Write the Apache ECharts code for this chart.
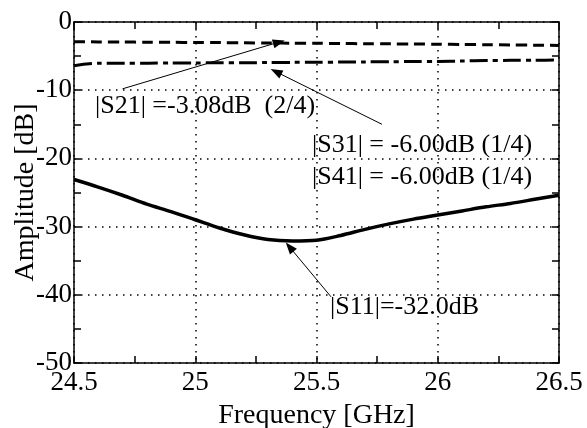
<!DOCTYPE html>
<html>
<head>
<meta charset="utf-8">
<script src="https://cdn.jsdelivr.net/npm/echarts@6/dist/echarts.min.js"></script>
<style>
  html, body { margin: 0; padding: 0; background: #fff; }
  #chart { width: 587px; height: 428px; }
</style>
</head>
<body>
<div id="chart"></div>
<script>
// frequency [GHz]
const freq = [24.5, 24.6, 24.7, 24.8, 24.9, 25.0, 25.1, 25.2, 25.3, 25.4, 25.5,
  25.6, 25.7, 25.8, 25.9, 26.0, 26.1, 26.2, 26.3, 26.4, 26.5]
// amplitude [dB]
const s21 = [-2.9, -2.92, -2.94, -2.96, -2.98, -3.0, -3.02, -3.05, -3.08, -3.1, -3.12,
  -3.15, -3.18, -3.2, -3.23, -3.26, -3.3, -3.33, -3.37, -3.4, -3.44]
const s31 = [-6.4, -6.05, -6.05, -6.05, -6.0, -6.0, -5.98, -5.97, -5.95, -5.92, -5.9,
  -5.88, -5.85, -5.82, -5.8, -5.78, -5.72, -5.65, -5.62, -5.6, -5.58]
const s11 = [-23.1, -24.2, -25.4, -26.7, -27.8, -29.0, -30.2, -31.2, -31.9, -32.1, -32.0,
  -31.3, -30.4, -29.6, -28.9, -28.3, -27.7, -27.1, -26.6, -26.0, -25.4]

// annotation arrows: [from, tip] in data coords
const arrowS21 = [[24.70, -9.8], [25.345, -2.95]]
const arrowS31 = [[25.77, -15.0], [25.333, -7.3]]
const arrowS11 = [[25.56, -40.3], [25.389, -33.0]]

const font = 'Liberation Serif'
const toPairs = (ys) => freq.map((f, i) => [f, ys[i]])

const chart = echarts.init(document.getElementById('chart'))

const tickStyle = { inside: true, length: 7, lineStyle: { color: '#000', width: 1.5 } }
const minorStyle = { show: true, splitNumber: 2, length: 7, lineStyle: { color: '#000', width: 1.5 } }
const axisLineStyle = { show: true, onZero: false, lineStyle: { color: '#000', width: 1.5 } }
const gridLine = { show: true, lineStyle: { color: '#000', width: 1.5, type: [1.5, 5.5] } }

function arrowLine(pts) {
  return {
    silent: true,
    symbol: ['none', 'triangle'],
    symbolSize: [9, 12],
    label: { show: false },
    lineStyle: { color: '#000', width: 1, type: 'solid' },
    data: [[{ coord: pts[0] }, { coord: pts[1] }]]
  }
}

const option = {
  animation: false,
  backgroundColor: '#fff',
  grid: { left: 74, right: 28, top: 22, bottom: 65, outerBoundsMode: 'none', containLabel: false },
  xAxis: [
    {
      type: 'value',
      min: 24.5,
      max: 26.5,
      interval: 0.5,
      name: 'Frequency [GHz]',
      nameLocation: 'middle',
      nameGap: 39,
      nameMoveOverlap: false,
      nameTextStyle: { fontFamily: font, fontSize: 28, color: '#000' },
      axisLine: axisLineStyle,
      axisTick: tickStyle,
      minorTick: minorStyle,
      splitLine: gridLine,
      axisLabel: { fontFamily: font, fontSize: 27, color: '#000', margin: 6 }
    },
    {
      type: 'value',
      position: 'top',
      min: 24.5,
      max: 26.5,
      interval: 0.5,
      axisLine: axisLineStyle,
      axisTick: tickStyle,
      minorTick: minorStyle,
      splitLine: { show: false },
      axisLabel: { show: false }
    }
  ],
  yAxis: [
    {
      type: 'value',
      min: -50,
      max: 0,
      interval: 10,
      name: 'Amplitude [dB]',
      nameLocation: 'middle',
      nameGap: 34,
      nameMoveOverlap: false,
      nameTextStyle: { fontFamily: font, fontSize: 28, color: '#000' },
      axisLine: axisLineStyle,
      axisTick: tickStyle,
      minorTick: minorStyle,
      splitLine: gridLine,
      axisLabel: { fontFamily: font, fontSize: 27, color: '#000', margin: 2 }
    },
    {
      type: 'value',
      position: 'right',
      min: -50,
      max: 0,
      interval: 10,
      axisLine: axisLineStyle,
      axisTick: tickStyle,
      minorTick: minorStyle,
      splitLine: { show: false },
      axisLabel: { show: false }
    }
  ],
  series: [
    {
      name: 'S21',
      type: 'line',
      showSymbol: false,
      smooth: 0.3,
      data: toPairs(s21),
      lineStyle: { color: '#000', width: 3, type: [11, 6] },
      markLine: arrowLine(arrowS21)
    },
    {
      name: 'S31',
      type: 'line',
      showSymbol: false,
      smooth: 0.3,
      data: toPairs(s31),
      lineStyle: { color: '#000', width: 3, type: [18, 5, 5, 5] },
      markLine: arrowLine(arrowS31)
    },
    {
      name: 'S11',
      type: 'line',
      showSymbol: false,
      smooth: 0.3,
      data: toPairs(s11),
      lineStyle: { color: '#000', width: 3.5 },
      markLine: arrowLine(arrowS11)
    }
  ],
  graphic: [
    { type: 'text', left: 95, top: 93, style: { text: '|S21| =-3.08dB  (2/4)', font: '26px "Liberation Serif"', fill: '#000' } },
    { type: 'text', left: 312, top: 132, style: { text: '|S31| = -6.00dB (1/4)', font: '26px "Liberation Serif"', fill: '#000' } },
    { type: 'text', left: 312, top: 164, style: { text: '|S41| = -6.00dB (1/4)', font: '26px "Liberation Serif"', fill: '#000' } },
    { type: 'text', left: 330, top: 294, style: { text: '|S11|=-32.0dB', font: '26px "Liberation Serif"', fill: '#000' } }
  ]
}

chart.setOption(option)
</script>
</body>
</html>
